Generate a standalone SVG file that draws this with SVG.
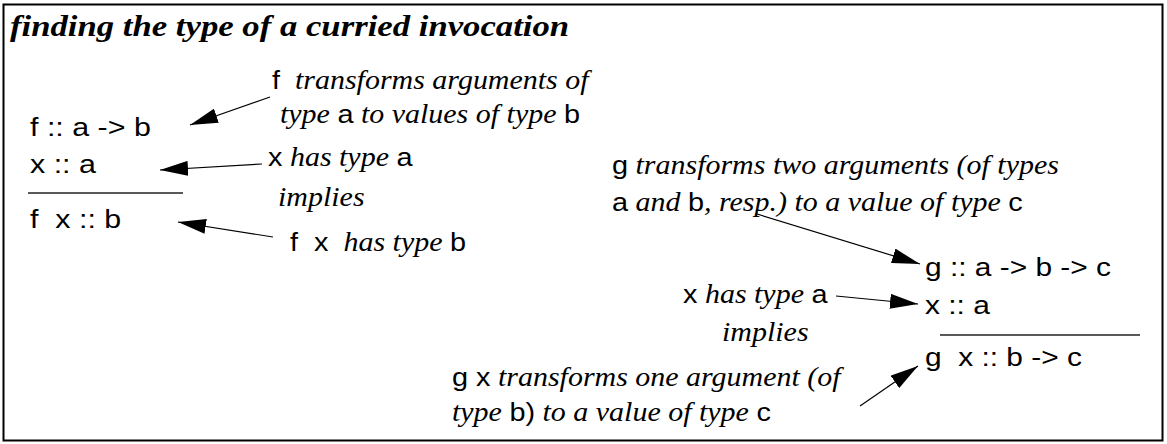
<svg xmlns="http://www.w3.org/2000/svg" width="1167" height="444" viewBox="0 0 1167 444">
<style>
.m{font-family:"Liberation Sans",Arial,sans-serif;font-size:26px;font-style:normal;fill:#000}
.i{font-family:"Liberation Serif","Times New Roman",serif;font-size:27px;font-style:italic;fill:#000}
.t{font-family:"Liberation Serif","Times New Roman",serif;font-size:30px;font-style:italic;font-weight:bold;fill:#000}
.c line{stroke:#000;stroke-width:1.2;marker-end:url(#ah)}
.rule{stroke:#222;stroke-width:1.5}
</style>
<defs>
<marker id="ah" viewBox="0 0 28 15" refX="28" refY="7.5" markerWidth="28" markerHeight="15" markerUnits="userSpaceOnUse" orient="auto">
<path d="M0,0 L28,7.5 L0,15 z" fill="#000"/>
</marker>
</defs>
<rect x="3.5" y="4.5" width="1159" height="436" fill="#fff" stroke="#000" stroke-width="2"/>
<text class="t" transform="translate(10,36) scale(1.157,1)">finding the type of a curried invocation</text>

<g id="left-rule">
<text class="m" transform="translate(30,136) scale(1.17,1)">f :: a -&gt; b</text>
<text class="m" transform="translate(30,173) scale(1.17,1)">x :: a</text>
<line class="rule" x1="28" y1="193" x2="183" y2="193"/>
<text class="m" transform="translate(30,228) scale(1.17,1)" xml:space="preserve">f  x :: b</text>
</g>

<g id="note-f">
<text class="i" transform="translate(272,89) scale(1.11,1)" xml:space="preserve"><tspan class="m">f</tspan>  transforms arguments of</text>
<text class="i" transform="translate(280,123) scale(1.11,1)">type <tspan class="m">a</tspan> to values of type <tspan class="m">b</tspan></text>
</g>
<g id="note-x-left">
<text class="i" transform="translate(268,166) scale(1.11,1)"><tspan class="m">x</tspan> has type <tspan class="m">a</tspan></text>
</g>
<g id="implies-left">
<text class="i" transform="translate(278,206) scale(1.11,1)">implies</text>
</g>
<g id="note-fx">
<text class="i" transform="translate(290,251) scale(1.11,1)" xml:space="preserve"><tspan class="m">f  x</tspan>  has type <tspan class="m">b</tspan></text>
</g>

<g id="note-g">
<text class="i" transform="translate(612,174) scale(1.11,1)"><tspan class="m">g</tspan> transforms two arguments (of types</text>
<text class="i" transform="translate(612,211) scale(1.11,1)"><tspan class="m">a</tspan> and <tspan class="m">b</tspan>, resp.) to a value of type <tspan class="m">c</tspan></text>
</g>
<g id="right-rule">
<text class="m" transform="translate(925,276) scale(1.15,1)">g :: a -&gt; b -&gt; c</text>
<text class="m" transform="translate(925,314) scale(1.15,1)">x :: a</text>
<line class="rule" x1="940" y1="335" x2="1140" y2="335"/>
<text class="m" transform="translate(925,366) scale(1.15,1)" xml:space="preserve">g  x :: b -&gt; c</text>
</g>
<g id="note-x-right">
<text class="i" transform="translate(683,303) scale(1.11,1)"><tspan class="m">x</tspan> has type <tspan class="m">a</tspan></text>
</g>
<g id="implies-right">
<text class="i" transform="translate(722,341) scale(1.11,1)">implies</text>
</g>
<g id="note-gx">
<text class="i" transform="translate(452,386) scale(1.11,1)"><tspan class="m">g x</tspan> transforms one argument (of</text>
<text class="i" transform="translate(452,421) scale(1.11,1)">type <tspan class="m">b)</tspan> to a value of type <tspan class="m">c</tspan></text>
</g>

<g id="connectors" class="c">
<line x1="270" y1="97" x2="190" y2="125"/>
<line x1="262" y1="164" x2="160" y2="170"/>
<line x1="273" y1="237" x2="178" y2="222"/>
<line x1="757" y1="214" x2="920" y2="264"/>
<line x1="836" y1="296" x2="918" y2="304"/>
<line x1="860" y1="406" x2="918" y2="366"/>
</g>
</svg>
